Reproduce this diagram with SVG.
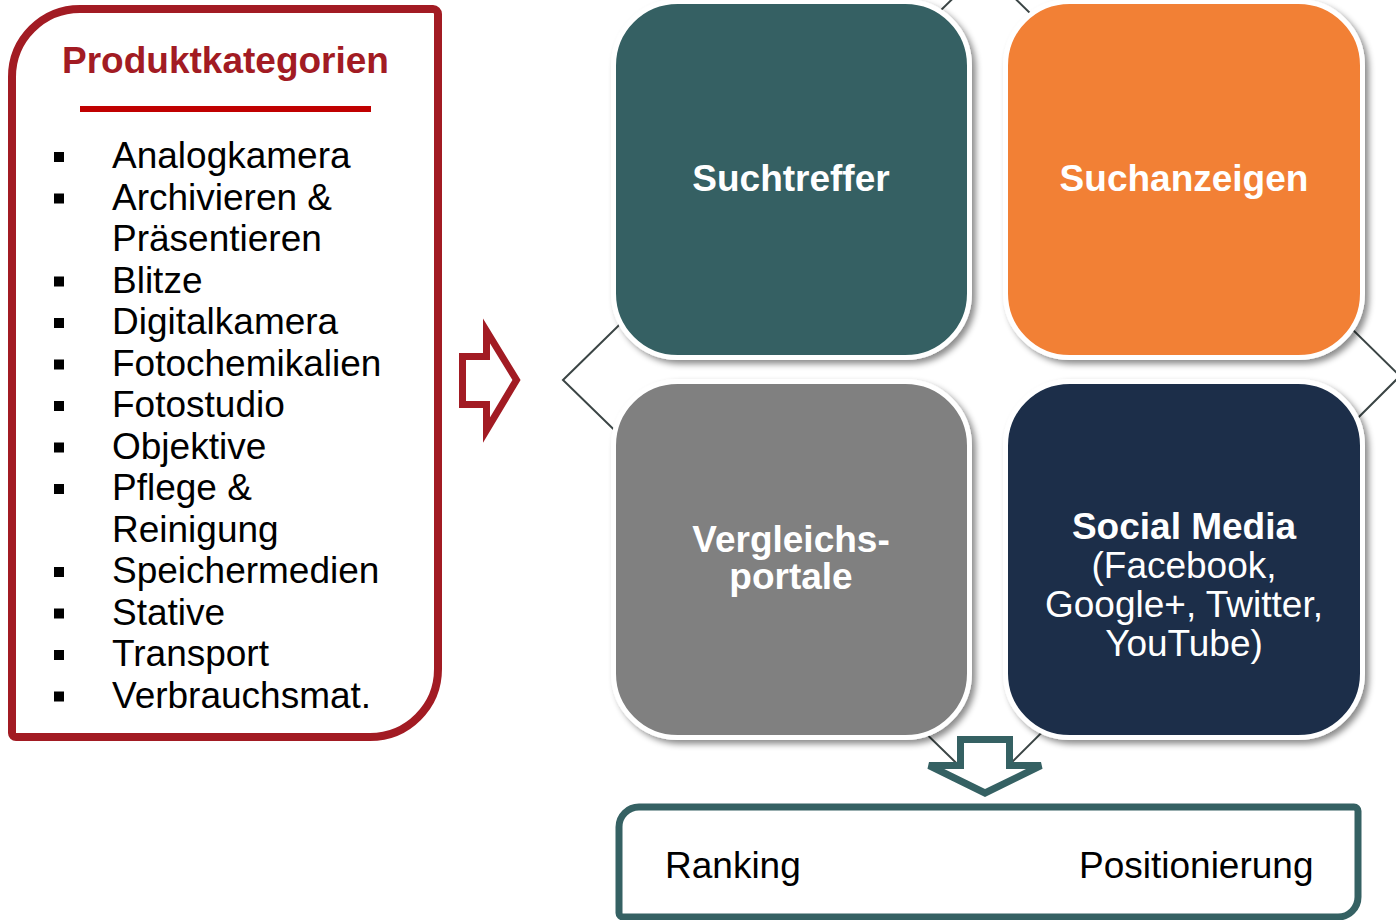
<svg xmlns="http://www.w3.org/2000/svg" width="1396" height="920" viewBox="0 0 1396 920">
<defs>
<style>
.t{font-family:"Liberation Sans",Arial,sans-serif;}
.li{font-size:37px;fill:#000;}
.bl{fill:#000;}
.hd{font-size:37px;font-weight:bold;fill:#fff;text-anchor:middle;}
.rg{font-size:37px;fill:#fff;text-anchor:middle;}
.tile{stroke:#fff;stroke-width:5;filter:url(#sh);}
</style>
<filter id="sh" x="-10%" y="-10%" width="125%" height="125%">
<feDropShadow dx="4" dy="4" stdDeviation="3" flood-color="#000" flood-opacity="0.45"/>
</filter>
</defs>
<rect width="1396" height="920" fill="#fff"/>

<g id="connectors">
<polygon points="563,380 984,-32 1400,376 984,790" fill="none" stroke="#3b4545" stroke-width="2"/>
<path d="M462.5,356.5 H486.5 V331 L516.5,380 L486.5,430 V404.5 H462.5 Z" fill="#fff" stroke="#A21B23" stroke-width="7" stroke-linejoin="miter"/>
</g>

<g id="produktkategorien">
<path d="M80,9 H433 A5,5 0 0 1 438,14 V669 A68,68 0 0 1 370,737 H16 A4,4 0 0 1 12,733 V77 A68,68 0 0 1 80,9 Z" fill="#fff" stroke="#A21B23" stroke-width="8"/>
<text class="t" x="225.5" y="73" font-size="37" font-weight="bold" fill="#A21B23" text-anchor="middle">Produktkategorien</text>
<line x1="80" y1="109" x2="371" y2="109" stroke="#C00000" stroke-width="6"/>
<g class="t li">
<rect class="bl" x="54" y="152" width="10" height="10"/><text x="112" y="168">Analogkamera</text>
<rect class="bl" x="54" y="193.5" width="10" height="10"/><text x="112" y="209.5">Archivieren &amp;</text>
<text x="112" y="251">Präsentieren</text>
<rect class="bl" x="54" y="276.5" width="10" height="10"/><text x="112" y="292.5">Blitze</text>
<rect class="bl" x="54" y="318" width="10" height="10"/><text x="112" y="334">Digitalkamera</text>
<rect class="bl" x="54" y="359.5" width="10" height="10"/><text x="112" y="375.5">Fotochemikalien</text>
<rect class="bl" x="54" y="401" width="10" height="10"/><text x="112" y="417">Fotostudio</text>
<rect class="bl" x="54" y="442.5" width="10" height="10"/><text x="112" y="458.5">Objektive</text>
<rect class="bl" x="54" y="484" width="10" height="10"/><text x="112" y="500">Pflege &amp;</text>
<text x="112" y="541.5">Reinigung</text>
<rect class="bl" x="54" y="567" width="10" height="10"/><text x="112" y="583">Speichermedien</text>
<rect class="bl" x="54" y="608.5" width="10" height="10"/><text x="112" y="624.5">Stative</text>
<rect class="bl" x="54" y="650" width="10" height="10"/><text x="112" y="666">Transport</text>
<rect class="bl" x="54" y="691.5" width="10" height="10"/><text x="112" y="707.5">Verbrauchsmat.</text>
</g>
</g>

<g id="suchtreffer">
<rect class="tile" x="613.5" y="1.5" width="356" height="356" rx="64" fill="#356163"/>
<text class="t hd" x="791" y="191">Suchtreffer</text>
</g>
<g id="suchanzeigen">
<rect class="tile" x="1005.5" y="1.5" width="357" height="356" rx="64" fill="#F28036"/>
<text class="t hd" x="1184" y="191">Suchanzeigen</text>
</g>
<g id="vergleichsportale">
<rect class="tile" x="613.5" y="381.5" width="356" height="356" rx="64" fill="#808080"/>
<text class="t hd" x="791" y="552">Vergleichs-</text>
<text class="t hd" x="791" y="589">portale</text>
</g>
<g id="socialmedia">
<rect class="tile" x="1005.5" y="381.5" width="357" height="356" rx="64" fill="#1C2F4A"/>
<text class="t hd" x="1184" y="539">Social Media</text>
<text class="t rg" x="1184" y="578">(Facebook,</text>
<text class="t rg" x="1184" y="617">Google+, Twitter,</text>
<text class="t rg" x="1184" y="656">YouTube)</text>
</g>

<g id="down-arrow">
<path d="M960.5,739.5 H1009.5 V765.5 H1041 L985,793 L929,765.5 H960.5 Z" fill="#fff" stroke="#356163" stroke-width="7" stroke-linejoin="miter"/>
</g>

<g id="ranking">
<path d="M639,807 H1354 A4,4 0 0 1 1358,811 V897 A20,20 0 0 1 1338,917 H623 A4,4 0 0 1 619,913 V827 A20,20 0 0 1 639,807 Z" fill="#fff" stroke="#356163" stroke-width="7"/>
<text class="t" x="665" y="878" font-size="37" fill="#000">Ranking</text>
<text class="t" x="1079" y="878" font-size="37" fill="#000">Positionierung</text>
</g>
</svg>
